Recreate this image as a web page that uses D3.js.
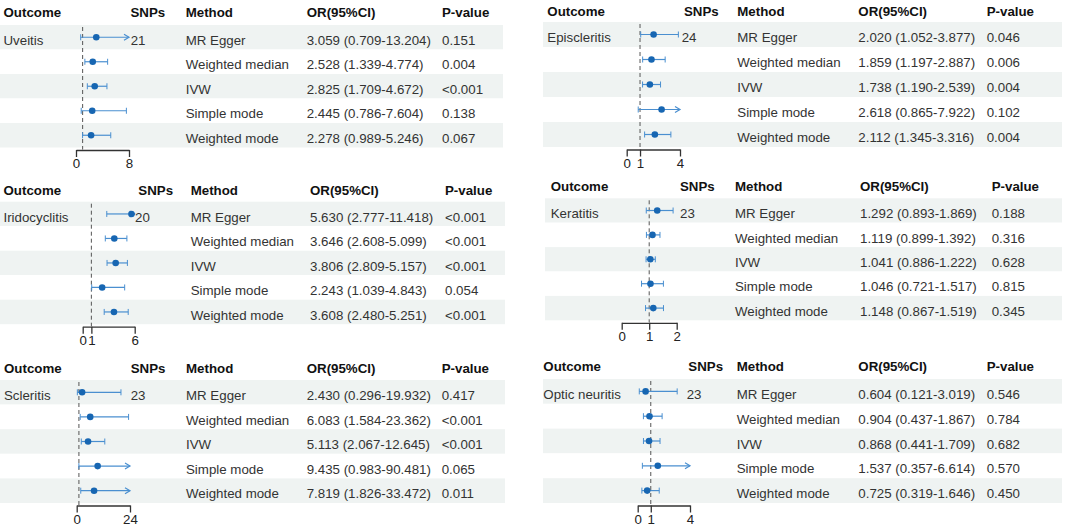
<!DOCTYPE html>
<html>
<head>
<meta charset="utf-8">
<script src="https://cdn.jsdelivr.net/npm/d3@7"></script>
<style>
  html, body { margin: 0; padding: 0; background: #fff; }
  svg text { font-family: "Liberation Sans", Arial, sans-serif; }
</style>
</head>
<body>
<svg id="chart" width="1065" height="531"></svg>
<script>
// data
const outcomes = ["Uveitis", "Episcleritis", "Iridocyclitis", "Keratitis", "Scleritis", "Optic neuritis"];
const snps = [21, 24, 20, 23, 23, 23];
const methods = ["MR Egger", "Weighted median", "IVW", "Simple mode", "Weighted mode"];
const headers = ["Outcome", "SNPs", "Method", "OR(95%CI)", "P-value"];

const orEst = [
  [3.059, 2.528, 2.825, 2.445, 2.278],
  [2.020, 1.859, 1.738, 2.618, 2.112],
  [5.630, 3.646, 3.806, 2.243, 3.608],
  [1.292, 1.119, 1.041, 1.046, 1.148],
  [2.430, 6.083, 5.113, 9.435, 7.819],
  [0.604, 0.904, 0.868, 1.537, 0.725]
];
const orLow = [
  [0.709, 1.339, 1.709, 0.786, 0.989],
  [1.052, 1.197, 1.190, 0.865, 1.345],
  [2.777, 2.608, 2.809, 1.039, 2.480],
  [0.893, 0.899, 0.886, 0.721, 0.867],
  [0.296, 1.584, 2.067, 0.983, 1.826],
  [0.121, 0.437, 0.441, 0.357, 0.319]
];
const orHigh = [
  [13.204, 4.774, 4.672, 7.604, 5.246],
  [3.877, 2.887, 2.539, 7.922, 3.316],
  [11.418, 5.099, 5.157, 4.843, 5.251],
  [1.869, 1.392, 1.222, 1.517, 1.519],
  [19.932, 23.362, 12.645, 90.481, 33.472],
  [3.019, 1.867, 1.709, 6.614, 1.646]
];
const pValues = [
  ["0.151", "0.004", "<0.001", "0.138", "0.067"],
  ["0.046", "0.006", "0.004", "0.102", "0.004"],
  ["<0.001", "<0.001", "<0.001", "0.054", "<0.001"],
  ["0.188", "0.316", "0.628", "0.815", "0.345"],
  ["0.417", "<0.001", "<0.001", "0.065", "0.011"],
  ["0.546", "0.784", "0.682", "0.570", "0.450"]
];
const axisTicks = [[0, 8], [0, 1, 4], [0, 1, 6], [0, 1, 2], [0, 24], [0, 1, 4]];

// layout of each panel (pixels)
const layout = [
  {headY: 12.7, rowTop: 25,    rowH: 24.5, outX: 3.5,   ax: [76, 129],      snpHX: 130.5, snpX: 130.7, methX: 185.7, orX: 306.7, pX: 442,   bg: [0, 503]},
  {headY: 11.7, rowTop: 22,    rowH: 25,   outX: 547.3, ax: [626.7, 680],   snpHX: 684,   snpX: 681.7, methX: 737.3, orX: 858.3, pX: 986.7, bg: [543, 1062]},
  {headY: 190,  rowTop: 201.7, rowH: 24.5, outX: 3.5,   ax: [82.7, 134.7],  snpHX: 138.3, snpX: 135,   methX: 190.7, orX: 310,   pX: 445,   bg: [0, 505]},
  {headY: 186,  rowTop: 198.3, rowH: 24.4, outX: 550.7, ax: [621.7, 676.7], snpHX: 680,   snpX: 680,   methX: 735,   orX: 860,   pX: 991.7, bg: [545, 1062]},
  {headY: 368.3,rowTop: 380,   rowH: 24.6, outX: 4,     ax: [76.7, 130],    snpHX: 130.7, snpX: 130.7, methX: 186,   orX: 306.7, pX: 441.7, bg: [0, 505]},
  {headY: 366,  rowTop: 379,   rowH: 24.8, outX: 543.3, ax: [637.7, 690],   snpHX: 688.3, snpX: 686.7, methX: 736.7, orX: 858.3, pX: 986.7, bg: [543, 1062]}
];

const fontSize = 13.3;
const shade = "#eff3f2";
const lineCol = "#4a8fd0";
const dotCol = "#1766b2";
const textCol = "#333";

const svg = d3.select("#chart");
const fmt = d3.format(".3f");

outcomes.forEach((outcome, i) => {
  const L = layout[i];
  const g = svg.append("g");
  const ticks = axisTicks[i];
  const x = d3.scaleLinear().domain([0, ticks[ticks.length - 1]]).range(L.ax);
  const y = d3.scaleBand().domain(methods).range([L.rowTop, L.rowTop + methods.length * L.rowH]).padding(0);
  const bottom = L.rowTop + methods.length * L.rowH;

  // alternating row shading
  g.selectAll("rect.row")
    .data(methods)
    .enter().append("rect")
      .attr("x", L.bg[0])
      .attr("y", (m) => y(m))
      .attr("width", L.bg[1] - L.bg[0])
      .attr("height", y.bandwidth())
      .attr("fill", (m, j) => (j % 2 === 0) ? shade : "#fff");

  // header
  const headX = [L.outX, L.snpHX, L.methX, L.orX, L.pX];
  g.selectAll("text.head")
    .data(headers)
    .enter().append("text")
      .attr("x", (h, j) => headX[j])
      .attr("y", L.headY)
      .attr("dy", "0.35em")
      .attr("font-size", fontSize)
      .attr("font-weight", "bold")
      .attr("fill", "#111")
      .text((h) => h);

  const mid = (m) => y(m) + y.bandwidth() / 2;
  const rows = methods.map((m, j) => ({
    method: m, est: orEst[i][j], lo: orLow[i][j], hi: orHigh[i][j], p: pValues[i][j]
  }));

  // text columns
  const addCol = (xPos, fn) => {
    g.append("g").selectAll("text")
      .data(rows)
      .enter().append("text")
        .attr("x", xPos)
        .attr("y", (d) => mid(d.method) + 3)
        .attr("dy", "0.35em")
        .attr("font-size", fontSize)
        .attr("fill", textCol)
        .text(fn);
  };
  addCol(L.methX, (d) => d.method);
  addCol(L.orX, (d) => fmt(d.est) + " (" + fmt(d.lo) + "-" + fmt(d.hi) + ")");
  addCol(L.pX, (d) => d.p);

  g.append("text")
    .attr("x", L.outX)
    .attr("y", mid(methods[0]) + 3)
    .attr("dy", "0.35em")
    .attr("font-size", fontSize)
    .attr("fill", textCol)
    .text(outcome);

  g.append("text")
    .attr("x", L.snpX)
    .attr("y", mid(methods[0]) + 3)
    .attr("dy", "0.35em")
    .attr("font-size", fontSize)
    .attr("fill", textCol)
    .text(snps[i]);

  // reference line at OR = 1
  g.append("line")
    .attr("x1", x(1)).attr("x2", x(1))
    .attr("y1", L.rowTop + 2).attr("y2", bottom + 2)
    .attr("stroke", "#555")
    .attr("stroke-width", 1)
    .attr("stroke-dasharray", "4,3");

  // confidence intervals
  const xMax = x.domain()[1];
  const ci = g.append("g").selectAll("g")
    .data(rows)
    .enter().append("g");

  ci.append("line")
    .attr("x1", (d) => x(Math.max(d.lo, 0)))
    .attr("x2", (d) => x(Math.min(d.hi, xMax)))
    .attr("y1", (d) => mid(d.method))
    .attr("y2", (d) => mid(d.method))
    .attr("stroke", lineCol)
    .attr("stroke-width", 1.2);

  ci.append("line")
    .attr("x1", (d) => x(d.lo)).attr("x2", (d) => x(d.lo))
    .attr("y1", (d) => mid(d.method) - 3).attr("y2", (d) => mid(d.method) + 3)
    .attr("stroke", lineCol)
    .attr("stroke-width", 1);

  ci.filter((d) => d.hi <= xMax).append("line")
    .attr("x1", (d) => x(d.hi)).attr("x2", (d) => x(d.hi))
    .attr("y1", (d) => mid(d.method) - 3).attr("y2", (d) => mid(d.method) + 3)
    .attr("stroke", lineCol)
    .attr("stroke-width", 1);

  // arrow when the interval runs past the axis
  ci.filter((d) => d.hi > xMax).append("path")
    .attr("d", (d) => {
      const ax = x(xMax), ay = mid(d.method);
      return "M" + (ax - 5) + "," + (ay - 3) + "L" + ax + "," + ay + "L" + (ax - 5) + "," + (ay + 3);
    })
    .attr("fill", "none")
    .attr("stroke", lineCol)
    .attr("stroke-width", 1.2);

  ci.append("circle")
    .attr("cx", (d) => x(d.est))
    .attr("cy", (d) => mid(d.method))
    .attr("r", 3.3)
    .attr("fill", dotCol);

  // x axis
  const axis = g.append("g")
    .attr("transform", "translate(0," + (bottom + 2.5) + ")")
    .call(d3.axisBottom(x).tickValues(ticks).tickFormat(d3.format("d")).tickSize(7).tickSizeOuter(0));
  axis.select(".domain").attr("stroke", "#333").attr("stroke-width", 1.3);
  axis.selectAll(".tick line").attr("stroke", "#333").attr("stroke-width", 1.3);
  axis.selectAll(".tick text")
    .attr("font-size", fontSize)
    .attr("font-family", "Liberation Sans, Arial, sans-serif")
    .attr("fill", "#222")
    .attr("y", 9);
});
</script>
</body>
</html>
